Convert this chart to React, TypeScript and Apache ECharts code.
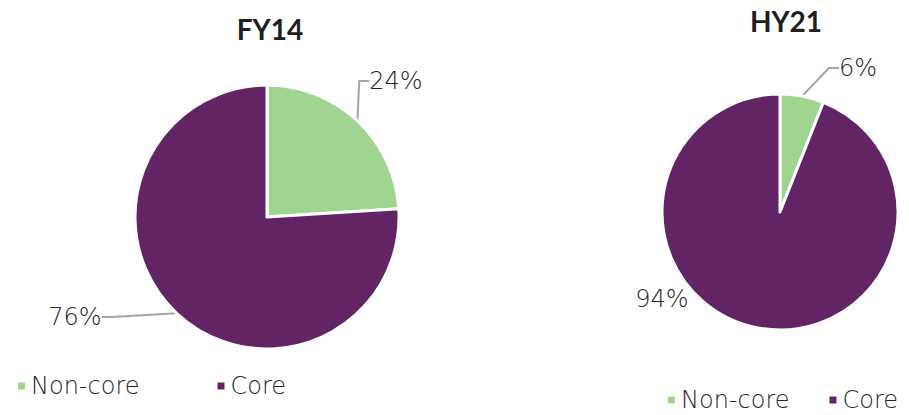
import React, { useEffect, useRef } from "react";
import * as echarts from "echarts";

const categories = ["Non-core", "Core"];
const fy14Values = [24, 76];
const hy21Values = [6, 94];
const titles = ["FY14", "HY21"];
const colors = ["#A0D491", "#622464"];

export default function App() {
  const ref = useRef<HTMLDivElement>(null);
  useEffect(() => {
    if (!ref.current) return;
    const chart = echarts.init(ref.current, undefined, { renderer: "svg" });
    const font = "Lato";
    const textFont = "DejaVu Sans";
    const labelStyle = { fontFamily: textFont, fontSize: 24, color: "#262626", fontWeight: 200 as any };
    const fy14Pos = [
      { x: 396, y: 81 },
      { x: 75, y: 317 },
    ];
    const hy21Pos = [
      { x: 858, y: 68 },
      { x: 662, y: 299 },
    ];
    const legendText = { fontFamily: textFont, fontSize: 24, fontWeight: 200 as any, color: "#262626", lineHeight: 24 };
    chart.setOption({
      animation: false,
      color: colors,
      title: [
        { text: titles[0], left: 265, top: 10, textAlign: "center", textStyle: { fontFamily: font, fontSize: 28, fontWeight: "bold", color: "#1f1f1f" } },
        { text: titles[1], left: 781, top: 2, textAlign: "center", textStyle: { fontFamily: font, fontSize: 28, fontWeight: "bold", color: "#1f1f1f" } },
      ],
      legend: [
        { data: categories, left: 16, top: 374, padding: 0, itemWidth: 9, itemHeight: 9, itemGap: 76, icon: "rect", textStyle: legendText },
        { data: categories, left: 666, top: 388, padding: 0, itemWidth: 9, itemHeight: 9, itemGap: 38, icon: "rect", textStyle: legendText },
      ],
      series: [
        {
          type: "pie",
          center: [267, 217],
          radius: 132,
          data: categories.map((n, i) => ({ name: n, value: fy14Values[i] })),
          itemStyle: { borderColor: "#fff", borderWidth: 3 },
          label: { ...labelStyle, formatter: "{c}%" },
          labelLine: { show: true, lineStyle: { color: "#A6A6A6", width: 2 }, length: 20, length2: 10 },
          labelLayout: (p: any) => ({ x: fy14Pos[p.dataIndex].x, y: fy14Pos[p.dataIndex].y, align: "center", verticalAlign: "middle" }),
        },
        {
          type: "pie",
          center: [780, 212],
          radius: 118,
          data: categories.map((n, i) => ({
            name: n,
            value: hy21Values[i],
            labelLine: { show: i === 0 },
          })),
          itemStyle: { borderColor: "#fff", borderWidth: 3 },
          label: { ...labelStyle, formatter: "{c}%" },
          labelLine: { show: true, lineStyle: { color: "#A6A6A6", width: 2 }, length: 20, length2: 10 },
          labelLayout: (p: any) => ({ x: hy21Pos[p.dataIndex].x, y: hy21Pos[p.dataIndex].y, align: "center", verticalAlign: "middle" }),
        },
      ],
    });
    return () => chart.dispose();
  }, []);
  return <div ref={ref} style={{ width: 909, height: 415, position: "absolute", left: 0, top: 0 }} />;
}
